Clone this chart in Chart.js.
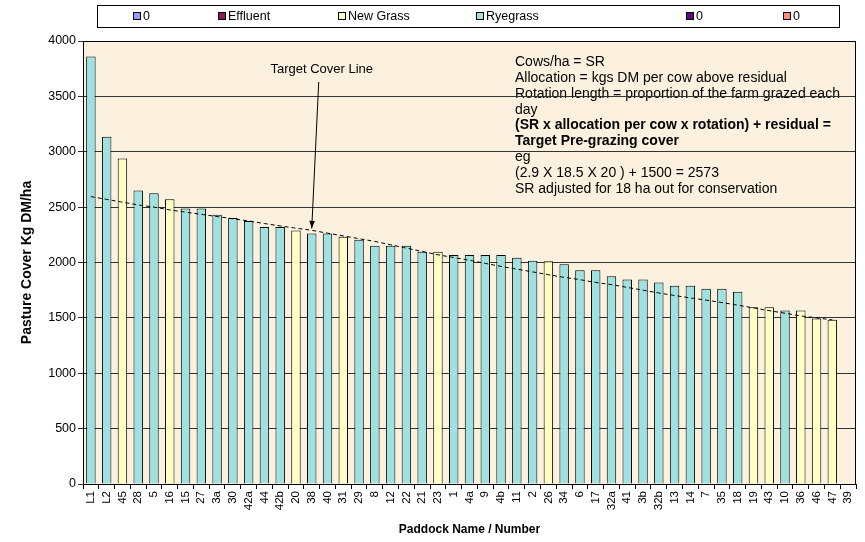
<!DOCTYPE html>
<html>
<head>
<meta charset="utf-8">
<script src="https://cdn.jsdelivr.net/npm/chart.js@4/dist/chart.umd.min.js"></script>
<style>
  html, body { margin: 0; padding: 0; background: #fff; }
  #wrap { width: 865px; height: 542px; position: relative; }
</style>
</head>
<body>
<div id="wrap"><canvas id="cover"></canvas></div>
<script>
const paddocks = ["L1", "L2", "45", "28", "5", "16", "15", "27", "3a", "30", "42a", "44", "42b", "20", "38", "40", "31", "29", "8", "12", "22", "21", "23", "1", "4a", "9", "4b", "11", "2", "26", "34", "6", "17", "32a", "41", "3b", "32b", "13", "14", "7", "35", "18", "19", "43", "10", "36", "46", "47", "39"];
const pastureCover = [3860, 3135, 2940, 2650, 2626, 2570, 2487, 2487, 2431, 2402, 2375, 2320, 2320, 2290, 2262, 2262, 2232, 2206, 2152, 2152, 2152, 2098, 2098, 2067, 2067, 2067, 2067, 2042, 2015, 2012, 1985, 1931, 1931, 1875, 1847, 1847, 1820, 1790, 1790, 1763, 1763, 1735, 1596, 1596, 1566, 1566, 1494, 1482, 0];
const grassType = ["R", "R", "N", "R", "R", "N", "R", "R", "R", "R", "R", "R", "R", "N", "R", "R", "N", "R", "R", "R", "R", "R", "N", "R", "R", "R", "R", "R", "R", "N", "R", "R", "R", "R", "R", "R", "R", "R", "R", "R", "R", "R", "N", "N", "R", "N", "N", "N", "R"];
const targetLine = [2595, 2570, 2545, 2520, 2500, 2475, 2455, 2435, 2415, 2395, 2375, 2352, 2330, 2310, 2290, 2265, 2240, 2215, 2190, 2160, 2130, 2100, 2070, 2045, 2020, 1992, 1965, 1940, 1915, 1890, 1866, 1845, 1820, 1800, 1775, 1750, 1725, 1702, 1680, 1660, 1638, 1615, 1590, 1565, 1542, 1518, 1500, 1482, null];
const yTicks = [0, 500, 1000, 1500, 2000, 2500, 3000, 3500, 4000];
const noteLines = [
  "Cows/ha = SR",
  "Allocation = kgs DM per cow above residual",
  "Rotation length = proportion of the farm grazed each",
  "day",
  "(SR x allocation per cow x rotation) + residual =",
  "Target Pre-grazing cover",
  "eg",
  "(2.9 X 18.5 X 20 ) + 1500 = 2573",
  "SR adjusted for 18 ha out for conservation"
];
const boldNotes = [4, 5];

const FONT = "Arial, 'Liberation Sans', sans-serif";
const series = [
  { label: "0", color: "#9999ff", key: null },
  { label: "Effluent", color: "#861c50", key: "E" },
  { label: "New Grass", color: "#ffffc4", key: "N" },
  { label: "Ryegrass", color: "#9fe0e0", key: "R" },
  { label: "0", color: "#5c0a7e", key: null },
  { label: "0", color: "#ff8a80", key: null }
];
const legendX = [133, 218, 338, 476, 686, 783];

const barSets = series.map(s => ({
  type: "bar",
  label: s.label,
  data: pastureCover.map((v, i) => (s.key && grassType[i] === s.key && v > 0) ? v : null),
  backgroundColor: s.color,
  borderColor: "#000",
  borderWidth: 1,
  categoryPercentage: 1,
  barPercentage: 0.6,
  skipNull: true,
  order: 2
}));

const decor = {
  id: "decor",
  beforeDraw(chart) {
    const { ctx, chartArea: a } = chart;
    ctx.save();
    ctx.fillStyle = "#fbf1de";
    ctx.fillRect(a.left, a.top, a.right - a.left, a.bottom - a.top);
    // notes
    ctx.fillStyle = "#000";
    ctx.textBaseline = "middle";
    noteLines.forEach((t, i) => {
      ctx.font = (boldNotes.includes(i) ? "bold " : "") + "14px " + FONT;
      ctx.fillText(t, 515, 62 + i * 15.9);
    });
    ctx.restore();
  },
  afterDraw(chart) {
    const { ctx, chartArea: a, scales } = chart;
    ctx.save();
    // frame
    ctx.strokeStyle = "#000";
    ctx.lineWidth = 1;
    ctx.strokeRect(a.left + 0.5, a.top + 0.5, a.right - a.left - 1, a.bottom - a.top);
    // legend
    ctx.strokeRect(97.5, 5.5, 742, 22);
    ctx.font = "12.5px " + FONT;
    ctx.textBaseline = "middle";
    series.forEach((s, i) => {
      ctx.fillStyle = s.color;
      ctx.fillRect(legendX[i], 12, 8, 8);
      ctx.strokeRect(legendX[i] + 0.5, 12.5, 7, 7);
      ctx.fillStyle = "#000";
      ctx.fillText(s.label, legendX[i] + 10, 16.5);
    });
    // target cover arrow
    const tipX = scales.x.getPixelForValue(14);
    const tipY = scales.y.getPixelForValue(2290) - 2;
    const startX = tipX + 7, startY = scales.y.getPixelForValue(3630);
    ctx.beginPath();
    ctx.moveTo(startX, startY);
    ctx.lineTo(tipX, tipY);
    ctx.stroke();
    const ang = Math.atan2(tipY - startY, tipX - startX);
    ctx.beginPath();
    ctx.moveTo(tipX, tipY);
    ctx.lineTo(tipX - 8 * Math.cos(ang - 0.35), tipY - 8 * Math.sin(ang - 0.35));
    ctx.lineTo(tipX - 8 * Math.cos(ang + 0.35), tipY - 8 * Math.sin(ang + 0.35));
    ctx.closePath();
    ctx.fillStyle = "#000";
    ctx.fill();
    ctx.font = "13px " + FONT;
    ctx.textAlign = "center";
    ctx.fillText("Target Cover Line", startX + 3, startY - 13);
    ctx.restore();
  }
};

new Chart(document.getElementById("cover"), {
  data: {
    labels: paddocks,
    datasets: [
      ...barSets,
      {
        type: "line",
        label: "Target",
        data: targetLine,
        borderColor: "#000",
        borderWidth: 1,
        borderDash: [4, 3],
        pointRadius: 0,
        tension: 0.4,
        fill: false,
        order: 1
      }
    ]
  },
  options: {
    responsive: true,
    maintainAspectRatio: false,
    animation: false,
    layout: { padding: { top: 41, right: 9, left: 0, bottom: 0 } },
    plugins: {
      legend: { display: false },
      tooltip: { enabled: false }
    },
    scales: {
      x: {
        afterFit: s => { s.height = 58; },
        grid: { drawOnChartArea: false, drawTicks: true, tickLength: 5, color: "#000", offset: true },
        border: { display: true, color: "#000" },
        ticks: {
          autoSkip: false, minRotation: 90, maxRotation: 90, color: "#000",
          font: { family: FONT, size: 11.5 }, padding: 2
        },
        title: {
          display: true, text: "Paddock Name / Number", color: "#000",
          font: { family: FONT, size: 12, weight: "bold" }, padding: { top: 0, bottom: 5 }
        }
      },
      y: {
        min: 0, max: 4000,
        afterFit: s => { s.width = 83; },
        afterBuildTicks: s => { s.ticks = yTicks.map(v => ({ value: v })); },
        grid: { color: "#333", lineWidth: 1, tickLength: 5, drawTicks: true },
        border: { display: true, color: "#000" },
        ticks: {
          color: "#000", font: { family: FONT, size: 12.5 }, padding: 2,
          callback: v => String(v)
        },
        title: {
          display: true, text: "Pasture Cover Kg DM/ha", color: "#000",
          font: { family: FONT, size: 14, weight: "bold" }, padding: { top: 19, bottom: 0 }
        }
      }
    }
  },
  plugins: [decor]
});
</script>
</body>
</html>
